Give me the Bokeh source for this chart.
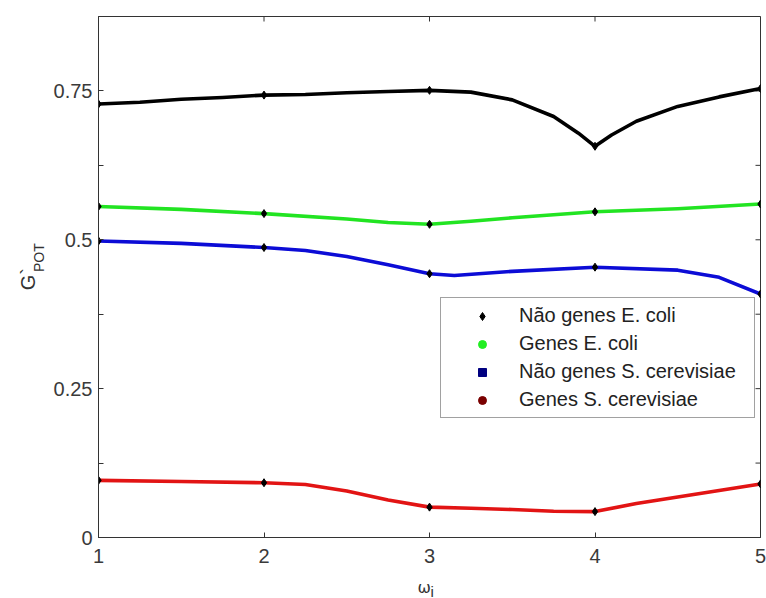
import math
from bokeh.plotting import figure
from bokeh.layouts import row, column
from bokeh.models import (FixedTicker, Legend, LegendItem, Label, Range1d)
from bokeh.embed import file_html
from bokeh.resources import INLINE

# ---------------- data ----------------
series_names = ["Não genes E. coli", "Genes E. coli",
                "Não genes S. cerevisiae", "Genes S. cerevisiae"]

x_black = [1, 1.25, 1.5, 1.75, 2, 2.25, 2.5, 2.75, 3, 3.25, 3.5, 3.75, 3.9, 4, 4.1, 4.25, 4.5, 4.75, 5]
y_black = [0.728, 0.731, 0.736, 0.739, 0.743, 0.744, 0.747, 0.749, 0.751, 0.748, 0.735, 0.707, 0.679,
           0.657, 0.676, 0.699, 0.724, 0.740, 0.754]

x_green = [1, 1.5, 2, 2.5, 2.75, 3, 3.25, 3.5, 4, 4.5, 5]
y_green = [0.556, 0.551, 0.544, 0.535, 0.529, 0.526, 0.531, 0.537, 0.547, 0.552, 0.560]

x_blue = [1, 1.5, 2, 2.25, 2.5, 2.75, 3, 3.15, 3.5, 4, 4.5, 4.75, 5]
y_blue = [0.498, 0.494, 0.487, 0.482, 0.472, 0.458, 0.443, 0.440, 0.447, 0.454, 0.449, 0.437, 0.409]

x_red = [1, 1.5, 2, 2.25, 2.5, 2.75, 3, 3.25, 3.5, 3.75, 4, 4.25, 4.5, 4.75, 5]
y_red = [0.096, 0.094, 0.092, 0.089, 0.078, 0.063, 0.051, 0.049, 0.047, 0.044, 0.0435, 0.057, 0.068, 0.079, 0.090]

x_ticks = [1, 2, 3, 4, 5]
y_major_ticks = [0, 0.25, 0.5, 0.75]
y_minor_ticks = [0.125, 0.375, 0.625, 0.875]
y_tick_labels = {0: "0", 0.25: "0.25", 0.5: "0.5", 0.75: "0.75"}

line_colors = ["#000000", "#22e422", "#0c0cd6", "#e21414"]
legend_colors = ["#000000", "#22ee22", "#000080", "#7a0000"]
legend_markers = ["diamond", "circle", "square", "circle"]
legend_sizes = [11, 5, 7, 7]

X0, X1, Y0, Y1 = 1, 5, 0, 0.875
FRAME_W, FRAME_H = 662, 521
LEFT_W, MAIN_H, BOTTOM_H = 50, 571, 27

# ---------------- main figure ----------------
p = figure(width=766 - LEFT_W, height=MAIN_H, x_range=Range1d(X0, X1), y_range=Range1d(Y0, Y1),
           output_backend="svg", toolbar_location=None,
           min_border_left=48, min_border_top=16, min_border_right=6, min_border_bottom=34,
           background_fill_color="white", border_fill_color="white")
p.grid.visible = False
p.outline_line_color = "#333333"
p.outline_line_width = 1

axis_style = dict(major_tick_in=5, major_tick_out=0, minor_tick_in=5, minor_tick_out=0,
                  axis_line_color="#333333", major_tick_line_color="#333333",
                  minor_tick_line_color="#333333",
                  major_label_text_font="Liberation Sans", major_label_text_font_size="20px",
                  major_label_text_color="#3a3a3a")

xa = p.xaxis[0]
xa.ticker = FixedTicker(ticks=x_ticks, minor_ticks=[])
xa.major_label_overrides = {t: str(t) for t in x_ticks}
xa.major_label_standoff = 11
for k, v in axis_style.items():
    setattr(xa, k, v)

ya = p.yaxis[0]
ya.ticker = FixedTicker(ticks=y_major_ticks, minor_ticks=y_minor_ticks)
ya.major_label_overrides = y_tick_labels
ya.major_label_standoff = 6
for k, v in axis_style.items():
    setattr(ya, k, v)

# mirrored inward ticks on the top and right sides of the box
dx = (X1 - X0) / FRAME_W
dy = (Y1 - Y0) / FRAME_H
p.segment(x0=x_ticks, y0=[Y1] * len(x_ticks), x1=x_ticks, y1=[Y1 - 5 * dy] * len(x_ticks),
          line_color="#333333", line_width=1)
all_y_ticks = y_major_ticks + y_minor_ticks
p.segment(x0=[X1] * len(all_y_ticks), y0=all_y_ticks, x1=[X1 - 5 * dx] * len(all_y_ticks),
          y1=all_y_ticks, line_color="#333333", line_width=1)

# ---------------- curves ----------------
all_x = [x_black, x_green, x_blue, x_red]
all_y = [y_black, y_green, y_blue, y_red]
for xs, ys, c in zip(all_x, all_y, line_colors):
    p.line(xs, ys, line_color=c, line_width=3.6, line_join="round")
for xs, ys in zip(all_x, all_y):
    px = [x for x in xs if x in x_ticks]
    py = [y for x, y in zip(xs, ys) if x in x_ticks]
    p.scatter(px, py, marker="diamond", size=8, fill_color="black", line_color="black")

# ---------------- legend (marker-only entries) ----------------
items = []
for name, c, m, s in zip(series_names, legend_colors, legend_markers, legend_sizes):
    r = p.scatter([x_ticks[0]], [float("nan")], marker=m, size=s, fill_color=c, line_color=c)
    items.append(LegendItem(label=name, renderers=[r]))
legend = Legend(items=items, location=(342, 119), padding=6, spacing=5,
                glyph_width=70, glyph_height=20, label_height=20, label_width=229,
                label_standoff=2,
                label_text_font="Liberation Sans", label_text_font_size="20px",
                label_text_color="#222222", border_line_color="#444444", border_line_width=1,
                background_fill_color="white", background_fill_alpha=1.0, margin=0)
p.add_layout(legend, "center")


# ---------------- axis-title strips (pixel coordinates) ----------------
def strip(w, h):
    f = figure(width=w, height=h, x_range=Range1d(0, w), y_range=Range1d(h, 0),
               output_backend="svg", toolbar_location=None, min_border=0,
               outline_line_color=None, background_fill_color="white",
               border_fill_color="white")
    f.axis.visible = False
    f.grid.visible = False
    return f


left = strip(LEFT_W, MAIN_H)
left.add_layout(Label(x=27, y=300, text="G`", angle=math.pi / 2, text_align="left",
                      text_baseline="alphabetic", text_font="Liberation Sans",
                      text_font_size="20px", text_color="#333333"))
left.add_layout(Label(x=38, y=280, text="POT", angle=math.pi / 2, text_align="left",
                      text_baseline="alphabetic", text_font="Liberation Sans",
                      text_font_size="14px", text_color="#333333"))

bottom = strip(766, BOTTOM_H)
bottom.add_layout(Label(x=417, y=16, text="ω", text_align="left", text_baseline="alphabetic",
                        text_font="DejaVu Sans", text_font_size="16px", text_color="#333333"))
bottom.add_layout(Label(x=430, y=20, text="i", text_align="left", text_baseline="alphabetic",
                        text_font="Liberation Sans", text_font_size="15px", text_color="#333333"))

layout = column(row(left, p, spacing=0), bottom, spacing=0)

open("out.html", "w").write(file_html(layout, INLINE))
